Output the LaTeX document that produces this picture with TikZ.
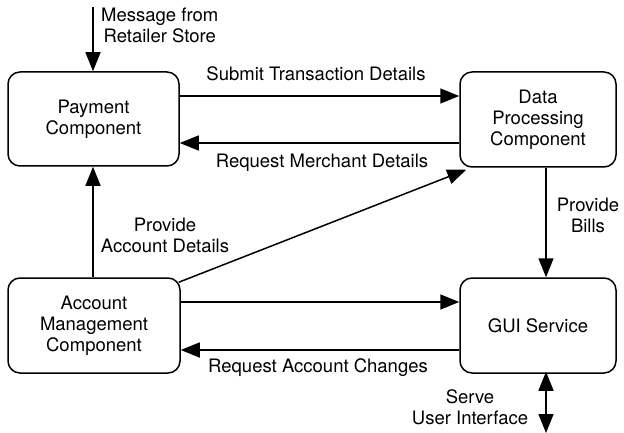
\documentclass[tikz,border=0pt]{standalone}
\usepackage{fontspec}
\setmainfont{TeX Gyre Heros}
\usetikzlibrary{arrows.meta}
\begin{document}
\begin{tikzpicture}[x=1pt,y=-1pt,
  box/.style={draw,line width=1.5pt,rounded corners=12pt,align=center,inner sep=0pt},
  flow/.style={line width=1.5pt,-{Triangle[length=19pt,width=15pt]}},
  lbl/.style={align=center,inner sep=0pt},
  every node/.append style={font=\fontsize{18.5}{21}\selectfont}]
\useasboundingbox (0,0) rectangle (624,433);
\node[box,minimum width=171pt,minimum height=94pt] (pay) at (93.5,119) {Payment\\Component};
\node[box,minimum width=156pt,minimum height=95pt] (dp) at (538,119.5) {Data\\Processing\\Component};
\node[box,minimum width=172pt,minimum height=95pt] (acc) at (94,325.5) {Account\\Management\\Component};
\node[box,minimum width=156pt,minimum height=95pt] (gui) at (538,325.5) {GUI Service};
\coordinate (msg) at (93,7);
\coordinate (ui) at (546,433);
\draw[flow] (msg) -- (msg |- pay.north);
\node[lbl,anchor=west] (msgl) at (101,25) {Message from\\Retailer Store};
\draw[flow] (pay.east |- 0,96) -- (dp.west |- 0,96);
\node[lbl] (s1) at (316,74) {Submit Transaction Details};
\draw[flow] (dp.west |- 0,143) -- (pay.east |- 0,143);
\node[lbl] (s2) at (322,163) {Request Merchant Details};
\draw[flow] (acc.north -| 93,0) -- (pay.south -| 93,0);
\node[lbl] (pad) at (165,235) {Provide\\Account Details};
\draw[flow] ([xshift=-2pt,yshift=-5pt]acc.north east) -- ([xshift=7pt,yshift=-2pt]dp.south west);
\draw[flow] (dp.south -| 546,0) -- (gui.north -| 546,0);
\node[lbl] (pb) at (588,215) {Provide\\Bills};
\draw[flow] (acc.east |- 0,302) -- (gui.west |- 0,302);
\draw[flow] (gui.west |- 0,350) -- (acc.east |- 0,350);
\node[lbl] (rac) at (318,368) {Request Account Changes};
\draw[line width=1.5pt,{Triangle[length=19pt,width=15pt]}-{Triangle[length=19pt,width=15pt]}] ([yshift=2pt]gui.south -| 546,0) -- (ui);
\node[lbl] (sui) at (470,407) {Serve\\User Interface};
\end{tikzpicture}
\end{document}
